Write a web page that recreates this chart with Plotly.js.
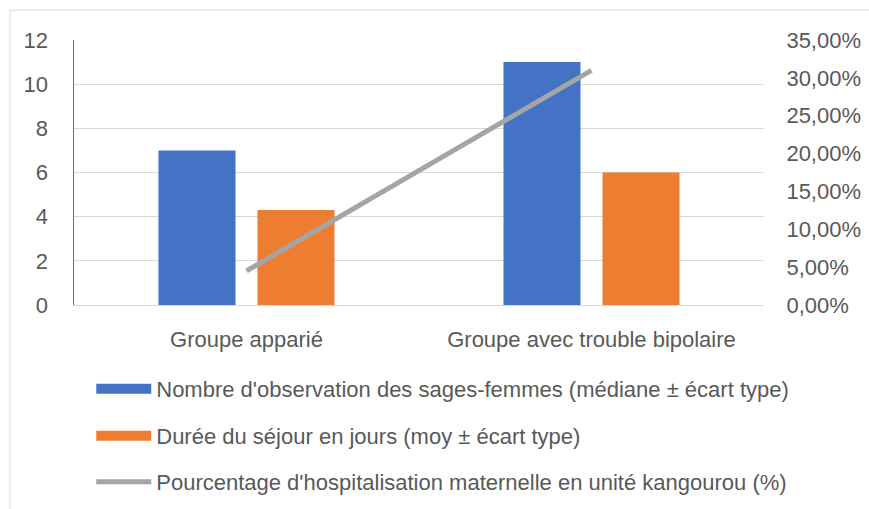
<!DOCTYPE html>
<html><head><meta charset="utf-8">
<script src="https://cdn.plot.ly/plotly-3.0.1.min.js"></script>
<style>html,body{margin:0;padding:0;background:#fff;}#chart{width:869px;height:509px;}</style>
</head><body><div id="chart"></div>
<script>
const categories = ["Groupe apparié", "Groupe avec trouble bipolaire"];
const observations = [7, 11];
const sejour = [4.3, 6];
const hospitalisation = [0.045, 0.31];
const seriesNames = [
  "Nombre d'observation des sages-femmes (médiane ± écart type)",
  "Durée du séjour en jours (moy ± écart type)",
  "Pourcentage d'hospitalisation maternelle en unité kangourou (%)"
];
const seriesColors = ["#4472c4", "#ed7d31", "#a5a5a5"];
const leftTicks = [0, 2, 4, 6, 8, 10, 12];
const rightTicks = [0, 0.05, 0.10, 0.15, 0.20, 0.25, 0.30, 0.35];

const font = "Liberation Sans, Arial, sans-serif";
const txt = "#595959";
const fs = 22;

const traces = [
  {type:"bar", x:categories, y:observations, name:seriesNames[0], marker:{color:seriesColors[0]}, showlegend:false},
  {type:"bar", x:categories, y:sejour, name:seriesNames[1], marker:{color:seriesColors[1]}, showlegend:false},
  {type:"scatter", mode:"lines", x:categories, y:hospitalisation, yaxis:"y2", name:seriesNames[2], line:{color:seriesColors[2], width:5}, legend:"legend3"},
  // legend swatches for the bar series (Excel-style wide rectangles)
  {type:"scatter", mode:"lines", x:[null], y:[null], name:seriesNames[0], line:{color:seriesColors[0], width:12}, legend:"legend", hoverinfo:"skip"},
  {type:"scatter", mode:"lines", x:[null], y:[null], name:seriesNames[1], line:{color:seriesColors[1], width:12}, legend:"legend2", hoverinfo:"skip"}
];

const legBase = {orientation:"v", x:0.025, xanchor:"left", yref:"container", yanchor:"middle", font:{family:font, size:fs, color:txt}, bgcolor:"rgba(0,0,0,0)", itemwidth:55};

const layout = {
  width:869, height:509,
  margin:{l:74, r:105, t:40, b:204, pad:0},
  paper_bgcolor:"#fff", plot_bgcolor:"#fff",
  separators:", ",
  showlegend:true,
  barmode:"group", bargap:0.426, bargroupgap:0.222,
  font:{family:font, size:fs, color:txt},
  xaxis:{type:"category", showline:true, linecolor:"#d9d9d9", linewidth:1, ticks:"outside", ticklen:15, tickcolor:"rgba(0,0,0,0)", tickfont:{family:font, size:fs, color:txt}, fixedrange:true, automargin:false},
  yaxis:{range:[0,12], tickvals:leftTicks, showline:true, linecolor:"#4472c4", linewidth:1.5, showgrid:true, gridcolor:"#d9d9d9", gridwidth:1, zeroline:false, ticks:"outside", ticklen:20, tickcolor:"rgba(0,0,0,0)", tickfont:{family:font, size:fs, color:txt}, automargin:false},
  yaxis2:{overlaying:"y", side:"right", range:[0,0.35], tickvals:rightTicks, tickformat:".2%", showgrid:false, zeroline:false, showline:false, ticks:"outside", ticklen:17, tickcolor:"rgba(0,0,0,0)", tickfont:{family:font, size:fs, color:txt}, automargin:false},
  legend:Object.assign({}, legBase, {y:0.2358}),
  legend2:Object.assign({}, legBase, {y:0.1434}),
  legend3:Object.assign({}, legBase, {y:0.0530}),
  shapes:[{type:"rect", xref:"paper", yref:"paper", x0:-0.0928, x1:1.2, y0:-1, y1:1.113, line:{color:"#d9d9d9", width:1}, fillcolor:"rgba(0,0,0,0)", layer:"below"}]
};

Plotly.newPlot("chart", traces, layout, {displayModeBar:false, staticPlot:true});
</script></body></html>
